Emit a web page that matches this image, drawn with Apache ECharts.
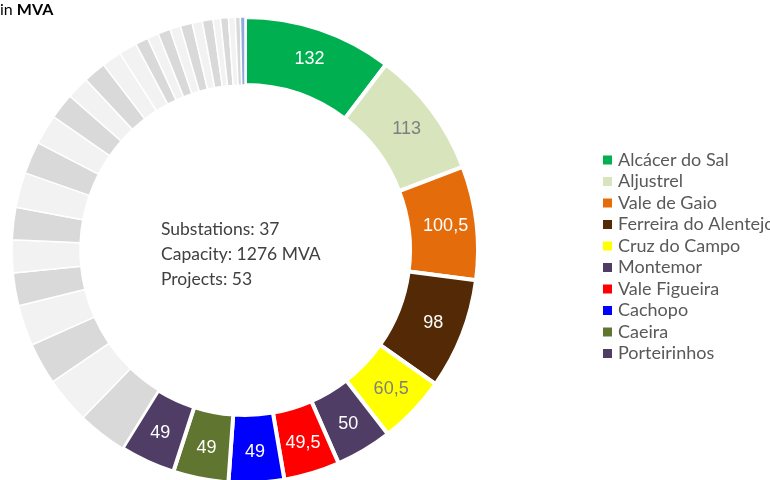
<!DOCTYPE html>
<html>
<head>
<meta charset="utf-8">
<script src="https://cdn.jsdelivr.net/npm/echarts@6/dist/echarts.min.js"></script>
<style>
  html, body { margin: 0; padding: 0; background: #ffffff; }
  #main { width: 770px; height: 480px; }
</style>
</head>
<body>
<div id="main"></div>
<script>
// substations shown in the legend, biggest first
const mainNames = ['Alcácer do Sal', 'Aljustrel', 'Vale de Gaio', 'Ferreira do Alentejo', 'Cruz do Campo',
  'Montemor', 'Vale Figueira', 'Cachopo', 'Caeira', 'Porteirinhos']
const mainValues = [132, 113, 100.5, 98, 60.5, 50, 49.5, 49, 49, 49]
const mainColors = ['#00b050', '#d8e4bc', '#e46c0a', '#542a06', '#ffff00',
  '#4f3d66', '#ff0000', '#0000ff', '#5f7530', '#4f3d66']
const mainLabelColors = ['#ffffff', '#7f7f7f', '#ffffff', '#ffffff', '#7f7f7f',
  '#ffffff', '#ffffff', '#ffffff', '#ffffff', '#ffffff']

// the remaining substations (grey ring part, clockwise)
const otherValues = [43.5, 41, 37, 36, 29, 29, 28.5, 31, 28.5, 26.5, 23, 20, 20, 17.5, 16,
  11.5, 10, 11, 9.5, 10.5, 9, 9.5, 6.5, 7, 6, 4.5, 4]
const otherColors = ['#d9d9d9', '#f2f2f2', '#d9d9d9', '#f2f2f2', '#d9d9d9', '#f2f2f2', '#d9d9d9',
  '#f2f2f2', '#d9d9d9', '#f2f2f2', '#d9d9d9', '#f2f2f2', '#d9d9d9', '#f2f2f2', '#f2f2f2',
  '#d9d9d9', '#f2f2f2', '#d9d9d9', '#f2f2f2', '#d9d9d9', '#f2f2f2', '#d9d9d9', '#f2f2f2',
  '#d9d9d9', '#f2f2f2', '#d9d9d9', '#8eaadb']

const summaryLines = ['Substations: 37', 'Capacity: 1276 MVA', 'Projects: 53']

const pieData = []
mainValues.forEach((v, i) => {
  pieData.push({
    name: mainNames[i],
    value: v,
    itemStyle: { color: mainColors[i], borderWidth: 4 },
    label: { show: true, color: mainLabelColors[i] }
  })
})
otherValues.forEach((v, i) => {
  pieData.push({
    name: 'Other ' + (i + 1),
    value: v,
    itemStyle: { color: otherColors[i], borderWidth: 1.5 },
    label: { show: false }
  })
})

const option = {
  animation: false,
  title: [
    {
      text: '{a|in }{b|MVA}',
      left: 0,
      top: 2,
      padding: 0,
      textStyle: {
        rich: {
          a: { fontFamily: 'Lato', fontSize: 16, fontWeight: 'normal', color: '#000000' },
          b: { fontFamily: 'Lato', fontSize: 16, fontWeight: 'bold', color: '#000000' }
        }
      }
    },
    {
      text: summaryLines.join('\n'),
      left: 161,
      top: 217,
      padding: 0,
      textStyle: {
        fontFamily: 'Lato',
        fontSize: 17.5,
        fontWeight: 'normal',
        color: '#404040',
        lineHeight: 25
      }
    }
  ],
  legend: {
    orient: 'vertical',
    left: 601,
    top: 151,
    padding: 0,
    data: mainNames,
    icon: 'rect',
    itemWidth: 11,
    itemHeight: 11,
    itemGap: 3.5,
    selectedMode: false,
    textStyle: {
      fontFamily: 'Lato',
      fontSize: 18,
      lineHeight: 16,
      color: '#595959'
    }
  },
  series: [
    {
      type: 'pie',
      center: [245, 250],
      radius: [165, 233],
      startAngle: 90,
      clockwise: true,
      avoidLabelOverlap: false,
      itemStyle: { borderColor: '#ffffff' },
      label: {
        position: 'inside',
        fontFamily: 'Liberation Sans',
        fontSize: 18,
        formatter: (p) => String(p.value).replace('.', ',')
      },
      labelLine: { show: false },
      emphasis: { disabled: true },
      data: pieData
    }
  ]
}

const myChart = echarts.init(document.getElementById('main'))
myChart.setOption(option)
</script>
</body>
</html>
